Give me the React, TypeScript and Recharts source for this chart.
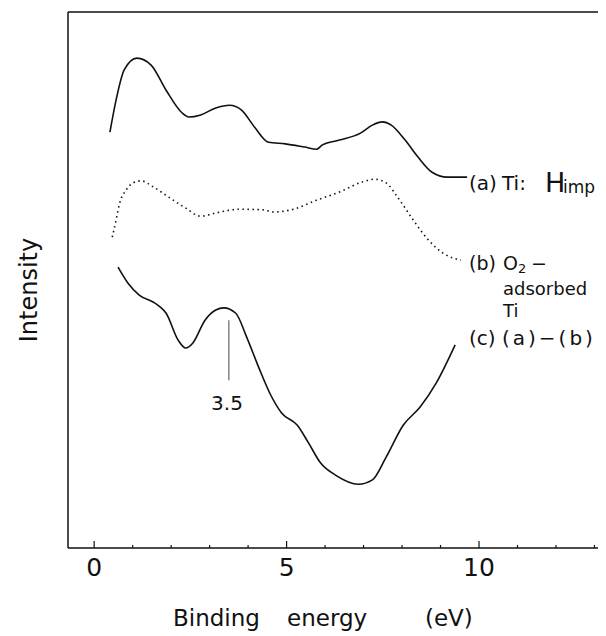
import { Line, LineChart, ReferenceLine, XAxis, YAxis } from "recharts";

// binding energy (eV) / intensity (arb. units, 0 = bottom axis, 100 = top frame)
const energyA = [0.41, 0.57, 0.78, 1.11, 1.48, 1.87, 2.28, 2.46, 2.77, 3.16, 3.52, 3.83, 4.17, 4.53, 4.97, 5.47, 5.78, 5.93, 6.37, 6.92, 7.23, 7.49, 7.72, 8.08, 8.42, 8.78, 9.17, 9.69];
const intensityA = [77.6, 83.6, 89.2, 91.4, 90.1, 85.4, 81.2, 80.4, 80.8, 82.1, 82.6, 81.7, 78.5, 75.7, 75.4, 74.8, 74.4, 75.2, 76.1, 77.4, 78.9, 79.5, 78.9, 76.1, 72.9, 70.1, 69.2, 69.2];

const energyB = [0.47, 0.57, 0.65, 0.83, 1.01, 1.22, 1.53, 1.97, 2.38, 2.77, 3.16, 3.78, 4.38, 4.66, 5.18, 5.78, 6.37, 6.97, 7.28, 7.59, 7.88, 8.29, 8.68, 9.09, 9.53];
const intensityB = [58.0, 61.2, 64.0, 66.8, 68.1, 68.5, 67.4, 65.3, 63.4, 61.9, 62.5, 63.2, 63.1, 62.7, 63.2, 64.9, 66.4, 68.3, 68.8, 68.1, 65.5, 61.2, 57.5, 54.9, 53.7];

const energyC = [0.62, 0.88, 1.17, 1.53, 1.71, 1.87, 2.18, 2.38, 2.56, 2.88, 3.16, 3.37, 3.68, 3.96, 4.27, 4.59, 4.87, 5.28, 5.57, 5.88, 6.27, 6.87, 7.23, 7.59, 8.03, 8.47, 8.89, 9.38];
const intensityC = [52.4, 49.4, 47.2, 45.9, 45.0, 43.8, 38.8, 37.3, 38.2, 42.5, 44.4, 44.8, 43.8, 39.4, 33.8, 28.5, 25.2, 22.9, 19.6, 15.9, 13.6, 11.9, 12.7, 17.0, 22.9, 26.3, 30.8, 37.9];

const tickValues = [0, 1, 2, 3, 4, 5, 6, 7, 8, 9, 10, 11, 12, 13];
const tickLabels = [0, 5, 10];

const peakEnergy = 3.5;

const toPoints = (xs: number[], ys: number[]) => xs.map((e, i) => ({ e, v: ys[i] }));
const seriesA = toPoints(energyA, intensityA);
const seriesB = toPoints(energyB, intensityB);
const seriesC = toPoints(energyC, intensityC);

const font = "'DejaVu Sans', sans-serif";
const ink = "#111";

const EnergyTick = ({ x, y, payload }: any) => {
  const major = tickLabels.includes(payload.value);
  return (
    <g>
      <line x1={x} y1={y} x2={x} y2={y - (major ? 7 : 3)} stroke={ink} strokeWidth={1.2} />
      {major && (
        <text x={x} y={y + 28} textAnchor="middle" fontSize={25} fontFamily={font} fill={ink}>
          {payload.value}
        </text>
      )}
    </g>
  );
};

const App = () => {
  return (
    <div style={{ position: "relative", width: 598, height: 628 }}>
      <LineChart width={598} height={628} margin={{ top: 4, right: 0, bottom: 48, left: 0 }}>
        <XAxis
          type="number"
          dataKey="e"
          domain={[-0.68, 13.3]}
          ticks={tickValues}
          interval={0}
          tickSize={0}
          tickMargin={0}
          tickLine={false}
          tick={<EnergyTick />}
          height={40}
          stroke={ink}
          strokeWidth={1.5}
          allowDataOverflow
        />
        <YAxis type="number" domain={[0, 100]} tick={false} tickLine={false} width={60} stroke={ink} strokeWidth={1.5} />
        <ReferenceLine y={100} stroke={ink} strokeWidth={1.5} />
        <ReferenceLine
          segment={[
            { x: peakEnergy, y: 42.5 },
            { x: peakEnergy, y: 31.3 },
          ]}
          stroke="#666"
          strokeWidth={1.2}
        />
        <Line data={seriesA} dataKey="v" type="monotone" stroke={ink} strokeWidth={1.6} dot={false} isAnimationActive={false} />
        <Line
          data={seriesB}
          dataKey="v"
          type="monotone"
          stroke={ink}
          strokeWidth={1.6}
          strokeDasharray="1.5 3.5"
          dot={false}
          isAnimationActive={false}
        />
        <Line data={seriesC} dataKey="v" type="monotone" stroke={ink} strokeWidth={1.6} dot={false} isAnimationActive={false} />
      </LineChart>

      <svg width={598} height={628} style={{ position: "absolute", left: 0, top: 0, pointerEvents: "none" }} fontFamily={font} fill={ink}>
        <text x={29} y={282} fontSize={24} textAnchor="middle" transform="rotate(-90 29 282)">
          Intensity
        </text>
        <text x={165} y={618} fontSize={23}>Binding</text>
        <text x={279} y={618} fontSize={23}>energy</text>
        <text x={417} y={618} fontSize={23}>(eV)</text>

        <text x={219} y={402} fontSize={20} textAnchor="middle">3.5</text>

        <text x={461} y={182} fontSize={20}>(a)</text>
        <text x={494} y={182} fontSize={20}>Ti:</text>
        <text x={537} y={184} fontSize={27}>H</text>
        <text x={555} y={185} fontSize={17}>imp</text>

        <text x={461} y={262} fontSize={19}>(b)</text>
        <text x={495} y={262} fontSize={19}>O</text>
        <text x={510} y={265} fontSize={13}>2</text>
        <text x={523} y={262} fontSize={19}>−</text>
        <text x={495} y={287} fontSize={18}>adsorbed</text>
        <text x={495} y={309} fontSize={18}>Ti</text>

        <text x={461} y={337} fontSize={20}>(c)</text>
        <text x={494} y={337} fontSize={20} letterSpacing={3}>(a)−(b)</text>
      </svg>
    </div>
  );
};

export default App;
